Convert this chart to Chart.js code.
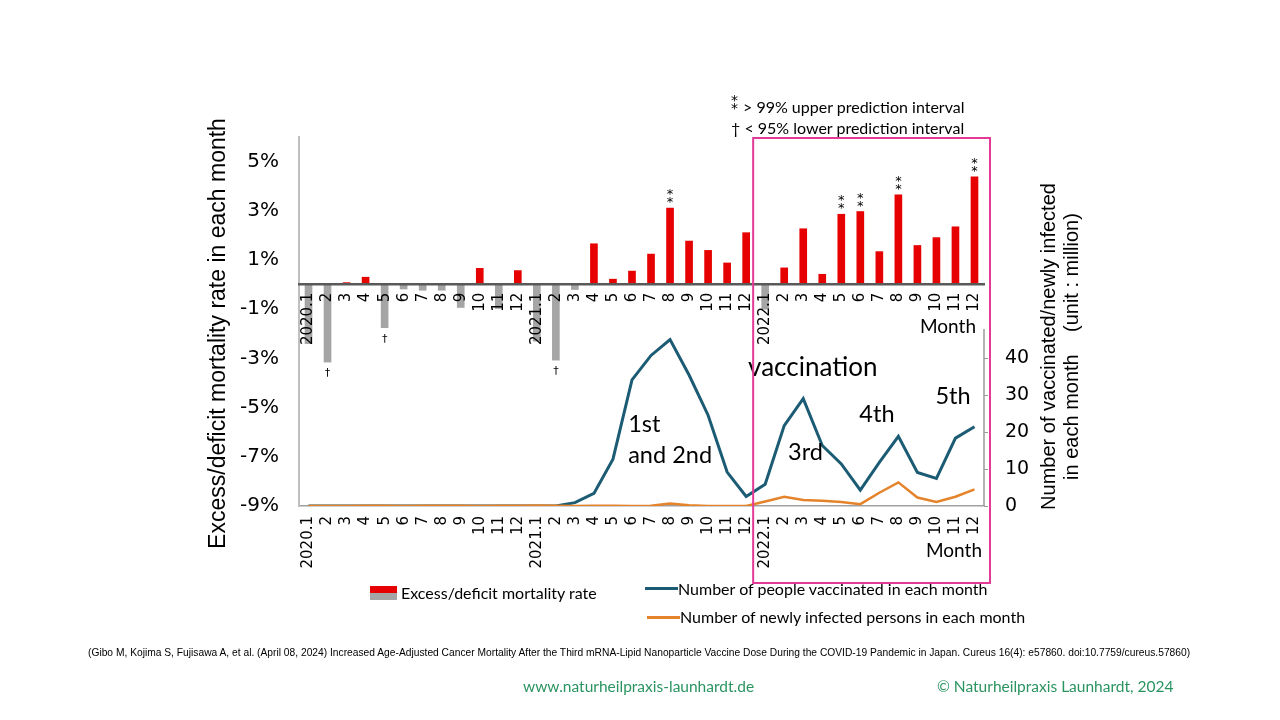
<!DOCTYPE html>
<html lang="en">
<head>
  <meta charset="UTF-8" />
  <title>Excess mortality and vaccination in Japan</title>
  <script src="https://cdn.jsdelivr.net/npm/chart.js"></script>
  <style>
    body {
      margin: 0;
      width: 1280px;
      height: 720px;
      position: relative;
      overflow: hidden;
      background: #fff;
      color: #000;
      font-family: Lato, 'Open Sans', sans-serif;
    }

    #chart {
      position: absolute;
      left: 0;
      top: 0;
    }

    .txt {
      position: absolute;
      white-space: nowrap;
      line-height: 1;
    }

    .star {
      position: absolute;
      font-family: 'DejaVu Sans';
      font-size: 14px;
      line-height: 1;
    }

    .swatch {
      position: absolute;
    }

    .green {
      color: #2a9460;
      font-size: 15.5px;
    }
  </style>
</head>
<body>
  <canvas id="chart" width="1280" height="720"></canvas>

  <!-- note on the markers -->
  <div class="star" style="left:731px; top:93px;">*</div>
  <div class="star" style="left:731px; top:101px;">*</div>
  <div class="txt" style="left:743px; top:99px; font-size:16px;">&gt; 99% upper prediction interval</div>
  <div class="txt" style="left:731px; top:120px; font-size:16px;">† &lt; 95% lower prediction interval</div>

  <!-- legend -->
  <div class="swatch" style="left:370px; top:586px; width:27px; height:7px; background:#e60000;"></div>
  <div class="swatch" style="left:370px; top:593px; width:27px; height:7px; background:#a5a5a5;"></div>
  <div class="txt" style="left:401px; top:585px; font-size:16px;">Excess/deficit mortality rate</div>
  <div class="swatch" style="left:645px; top:587px; width:33px; height:3px; background:#1b5b73;"></div>
  <div class="txt" style="left:678px; top:581px; font-size:16px;">Number of people vaccinated in each month</div>
  <div class="swatch" style="left:647px; top:616px; width:33px; height:3px; background:#e5832a;"></div>
  <div class="txt" style="left:680px; top:609px; font-size:16px;">Number of newly infected persons in each month</div>

  <!-- source and footer -->
  <div class="txt" id="cite" style="left:88px; top:647px; font-size:11.5px; font-family:'Liberation Sans Narrow', 'Liberation Sans', sans-serif; transform-origin:0 0;">(Gibo M, Kojima S, Fujisawa A, et al. (April 08, 2024) Increased Age-Adjusted Cancer Mortality After the Third mRNA-Lipid Nanoparticle Vaccine Dose During the COVID-19 Pandemic in Japan. Cureus 16(4): e57860. doi:10.7759/cureus.57860)</div>
  <div class="txt green" style="left:523px; top:679px;">www.naturheilpraxis-launhardt.de</div>
  <div class="txt green" style="left:937px; top:679px;">© Naturheilpraxis Launhardt, 2024</div>

  <script>
    // months 2020.1 - 2022.12
    const months = [
      '2020.1', '2', '3', '4', '5', '6', '7', '8', '9', '10', '11', '12',
      '2021.1', '2', '3', '4', '5', '6', '7', '8', '9', '10', '11', '12',
      '2022.1', '2', '3', '4', '5', '6', '7', '8', '9', '10', '11', '12'
    ];

    // excess/deficit mortality rate (%)
    const mortality = [
      -2.4, -3.15, 0.08, 0.3, -1.75, -0.18, -0.23, -0.23, -0.93, 0.66, -0.97, 0.57,
      -2.3, -3.07, -0.2, 1.66, 0.22, 0.55, 1.24, 3.11, 1.77, 1.39, 0.88, 2.11,
      -1.0, 0.68, 2.27, 0.42, 2.86, 2.97, 1.34, 3.65, 1.59, 1.91, 2.35, 4.38
    ];

    // people vaccinated per month (million)
    const vaccinated = [
      0, 0, 0, 0, 0, 0, 0, 0, 0, 0, 0, 0,
      0, 0, 0.9, 3.4, 12.7, 34.2, 40.8, 45.1, 35.5, 24.6, 9.2, 2.6,
      5.9, 21.8, 29.1, 16.4, 11.4, 4.3, 11.8, 18.9, 9.1, 7.5, 18.4, 21.5
    ];

    // newly infected per month (million)
    const infected = [
      0, 0, 0, 0.1, 0.1, 0, 0.1, 0.1, 0.1, 0, 0.1, 0.1,
      0.15, 0.1, 0, 0.1, 0.1, 0, 0.1, 0.7, 0.2, 0, 0, 0,
      1.2, 2.5, 1.6, 1.4, 1.1, 0.5, 3.6, 6.4, 2.3, 1.1, 2.5, 4.5
    ];

    // significance markers
    const marks = [
      '', '†', '', '', '†', '', '', '', '', '', '', '',
      '', '†', '', '', '', '', '', '**', '', '', '', '',
      '', '', '', '', '**', '**', '', '**', '', '', '', '**'
    ];

    const leftTicks = [-9, -7, -5, -3, -1, 1, 3, 5];
    const rightTicks = [0, 10, 20, 30, 40];

    // text labels inside the plot (x = month index, v = right axis value)
    const notes = [
      { text: 'vaccination', i: 23.1, v: 37.5, size: 26 },
      { text: '1st', i: 16.8, v: 22, size: 23.5 },
      { text: 'and 2nd', i: 16.8, v: 13.6, size: 23.5 },
      { text: '3rd', i: 25.2, v: 14.4, size: 23.5 },
      { text: '4th', i: 28.95, v: 24.7, size: 23.5 },
      { text: '5th', i: 32.95, v: 29.6, size: 23.5 }
    ];

    const tickFont = { family: 'DejaVu Sans', size: 15 };

    const extras = {
      id: 'extras',
      afterDatasetsDraw(chart) {
        const ctx = chart.ctx;
        const bars = chart.getDatasetMeta(0).data;
        ctx.save();
        ctx.fillStyle = '#000';
        ctx.textAlign = 'center';
        ctx.textBaseline = 'alphabetic';
        marks.forEach((m, i) => {
          if (!m) return;
          const bar = bars[i];
          if (m === '**') {
            ctx.font = '13px "DejaVu Sans"';
            ctx.fillText('*', bar.x, bar.y - 2);
            ctx.fillText('*', bar.x, bar.y - 10);
          } else {
            ctx.font = '11px "DejaVu Sans"';
            ctx.fillText('†', bar.x, bar.y + 14);
          }
        });
        ctx.restore();
      },
      afterDraw(chart) {
        const ctx = chart.ctx;
        const area = chart.chartArea;
        const x = chart.scales.x;
        const y = chart.scales.y;
        const y1 = chart.scales.y1;
        ctx.save();

        // right axis line (0 to 48 only)
        ctx.strokeStyle = '#9a9a9a';
        ctx.lineWidth = 1.5;
        ctx.beginPath();
        ctx.moveTo(area.right, y1.getPixelForValue(0));
        ctx.lineTo(area.right, y1.getPixelForValue(48));
        ctx.stroke();

        // annotation texts
        ctx.fillStyle = '#000';
        ctx.textAlign = 'left';
        ctx.textBaseline = 'middle';
        notes.forEach(n => {
          ctx.font = n.size + 'px Lato';
          ctx.fillText(n.text, x.getPixelForValue(n.i), y1.getPixelForValue(n.v));
        });

        // "Month" captions
        ctx.font = '19px Lato';
        ctx.textAlign = 'right';
        ctx.fillText('Month', area.right - 8, y.getPixelForValue(0) + 42);
        ctx.fillText('Month', area.right - 2, area.bottom + 45);

        // axis titles
        ctx.textAlign = 'center';
        ctx.font = '23px "Liberation Sans"';
        ctx.translate(area.left - 80, (area.top + area.bottom) / 2 + 12);
        ctx.rotate(-Math.PI / 2);
        ctx.fillText('Excess/deficit mortality rate in each month', 0, 0);
        ctx.setTransform(1, 0, 0, 1, 0, 0);
        ctx.font = '20px "Liberation Sans"';
        ctx.translate(area.right + 65, (area.top + area.bottom) / 2 + 25);
        ctx.rotate(-Math.PI / 2);
        ctx.fillText('Number of vaccinated/newly infected', 0, 0);
        ctx.fillText('in each month    (unit : million)', 0, 23);
        ctx.setTransform(1, 0, 0, 1, 0, 0);

        // 2022 box
        ctx.strokeStyle = '#e23a96';
        ctx.lineWidth = 2;
        const bx = x.getPixelForValue(23) + 7;
        ctx.strokeRect(bx, area.top + 1, area.right + 6 - bx, area.bottom + 76 - area.top);
        ctx.restore();
      }
    };

    new Chart(document.getElementById('chart'), {
      data: {
        labels: months,
        datasets: [
          {
            type: 'bar',
            label: 'Excess/deficit mortality rate',
            data: mortality,
            backgroundColor: ctx => (ctx.raw < 0 ? '#a5a5a5' : '#e60000'),
            barThickness: 7,
            xAxisID: 'x',
            yAxisID: 'y',
            order: 2
          },
          {
            type: 'line',
            label: 'Number of people vaccinated in each month',
            data: vaccinated,
            borderColor: '#1b5b73',
            borderWidth: 3,
            pointRadius: 0,
            tension: 0,
            yAxisID: 'y1',
            order: 1
          },
          {
            type: 'line',
            label: 'Number of newly infected persons in each month',
            data: infected,
            borderColor: '#e5832a',
            borderWidth: 2.5,
            pointRadius: 0,
            tension: 0,
            yAxisID: 'y1',
            order: 0
          }
        ]
      },
      options: {
        responsive: false,
        animation: false,
        layout: { padding: { top: 137, left: 0, right: 0, bottom: 0 } },
        plugins: {
          legend: { display: false },
          tooltip: { enabled: false }
        },
        scales: {
          x: {
            type: 'category',
            position: 'bottom',
            offset: true,
            grid: { display: false, drawTicks: false },
            border: { color: '#a0a0a0', width: 1.5 },
            ticks: {
              color: '#000',
              font: tickFont,
              minRotation: 90,
              maxRotation: 90,
              autoSkip: false,
              padding: 10
            },
            afterFit: s => { s.height = 214; }
          },
          x2: {
            type: 'category',
            axis: 'x',
            position: { y: 0 },
            offset: true,
            grid: { display: false, drawTicks: false },
            border: { color: '#595959', width: 2.5, z: 1 },
            ticks: {
              color: '#000',
              font: tickFont,
              minRotation: 90,
              maxRotation: 90,
              autoSkip: false,
              padding: 8,
              z: 1
            }
          },
          y: {
            position: 'left',
            min: -9,
            max: 6,
            grid: { display: false, drawTicks: false },
            border: { color: '#bfbfbf', width: 2 },
            afterBuildTicks: s => { s.ticks = leftTicks.map(v => ({ value: v })); },
            ticks: {
              color: '#000',
              font: { family: 'DejaVu Sans', size: 20 },
              padding: 20,
              callback: v => v + '%'
            },
            afterFit: s => { s.width = 299; }
          },
          y1: {
            position: 'right',
            min: 0,
            max: 100,
            grid: { display: true, drawOnChartArea: false, drawTicks: true, tickLength: 4, color: '#9a9a9a' },
            border: { display: false },
            afterBuildTicks: s => { s.ticks = rightTicks.map(v => ({ value: v })); },
            ticks: {
              color: '#000',
              font: { family: 'DejaVu Sans', size: 19 },
              padding: 17
            },
            afterFit: s => { s.width = 296; }
          }
        }
      },
      plugins: [extras]
    });

    // stretch the source line to the width it has in the slide
    const cite = document.getElementById('cite');
    cite.style.transform = 'scaleX(' + (1102 / cite.offsetWidth) + ')';
  </script>
</body>
</html>
